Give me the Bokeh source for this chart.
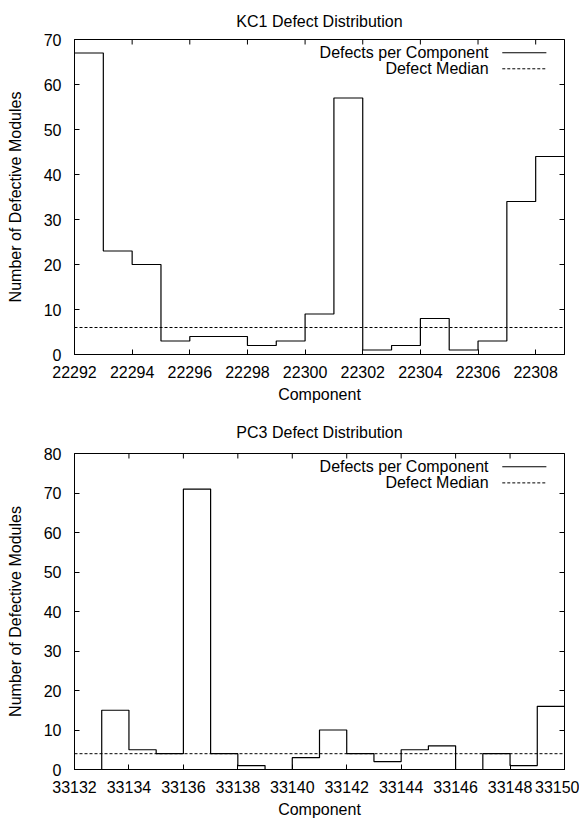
from bokeh.plotting import figure
from bokeh.layouts import column
from bokeh.models import LinearAxis, SingleIntervalTicker, Span, Range1d, CustomJSTickFormatter
from bokeh.core.properties import value
from bokeh.embed import file_html
from bokeh.resources import INLINE

# ---- data ----
kc1_title = "KC1 Defect Distribution"
kc1_components = [22292, 22293, 22294, 22295, 22296, 22297, 22298, 22299, 22300,
                  22301, 22302, 22303, 22304, 22305, 22306, 22307, 22308]
kc1_defects = [67, 23, 20, 3, 4, 4, 2, 3, 9, 57, 1, 2, 8, 1, 3, 34, 44]
kc1_median = 6
kc1_ymax = 70

pc3_title = "PC3 Defect Distribution"
pc3_components = [33132, 33133, 33134, 33135, 33136, 33137, 33138, 33139, 33140,
                  33141, 33142, 33143, 33144, 33145, 33146, 33147, 33148, 33149]
pc3_defects = [0, 15, 5, 4, 71, 4, 1, 0, 3, 10, 4, 2, 5, 6, 0, 4, 1, 16]
pc3_median = 4
pc3_ymax = 80

legend_labels = ["Defects per Component", "Defect Median"]
x_label = "Component"
y_label = "Number of Defective Modules"

FONT = "Liberation Sans"
FS = "16px"
TICK_PX = 5


def make_panel(title, comps, defects, median, ymax, top_border, frame_h,
               bottom_border, title_standoff):
    x0 = comps[0]
    x1 = comps[-1] + 1
    p = figure(frame_width=490, frame_height=frame_h,
               x_range=Range1d(x0, x1), y_range=Range1d(0, ymax),
               output_backend="svg", toolbar_location=None,
               min_border_left=74, min_border_right=15,
               min_border_top=top_border, min_border_bottom=bottom_border,
               title=title)
    p.background_fill_color = "white"
    p.border_fill_color = "white"
    p.outline_line_color = "black"
    p.outline_line_width = 1
    p.xgrid.visible = False
    p.ygrid.visible = False

    p.title.align = "center"
    p.title.text_font = FONT
    p.title.text_font_size = FS
    p.title.text_font_style = "normal"
    p.title.text_color = "black"
    p.title.standoff = title_standoff

    xt = SingleIntervalTicker(interval=2, num_minor_ticks=0)
    yt = SingleIntervalTicker(interval=10, num_minor_ticks=0)

    xa = p.xaxis[0]
    xa.ticker = xt
    ya = p.yaxis[0]
    ya.ticker = yt
    for ax in (xa, ya):
        ax.major_tick_in = TICK_PX
        ax.major_tick_out = 0
        ax.minor_tick_line_color = None
        ax.axis_line_color = "black"
        ax.major_tick_line_color = "black"
        ax.major_label_text_font = FONT
        ax.major_label_text_font_size = FS
        ax.major_label_text_color = "black"
        ax.axis_label_text_font = FONT
        ax.axis_label_text_font_size = FS
        ax.axis_label_text_font_style = "normal"
        ax.axis_label_text_color = "black"
    xa.axis_label = x_label
    ya.axis_label = y_label
    xa.major_label_standoff = 11
    xa.axis_label_standoff = 5
    ya.major_label_standoff = 13
    ya.axis_label_standoff = 17

    # mirrored ticks on the right (no labels)
    blank = CustomJSTickFormatter(code="return '';")
    right = LinearAxis(ticker=SingleIntervalTicker(interval=10, num_minor_ticks=0),
                       formatter=blank, major_label_standoff=0,
                       major_tick_in=TICK_PX, major_tick_out=0,
                       minor_tick_line_color=None, axis_line_color=None,
                       major_tick_line_color="black")
    p.add_layout(right, "right")

    # mirrored ticks on top, at the same x tick positions
    tick_x = list(range(x0, x1 + 1, 2))
    dy = ymax * TICK_PX / frame_h
    p.segment(x0=tick_x, y0=[ymax] * len(tick_x), x1=tick_x,
              y1=[ymax - dy] * len(tick_x), line_color="black", line_width=1)

    # histogram steps
    xs = list(comps) + [x1]
    ys = list(defects) + [defects[-1]]
    p.step(xs, ys, mode="after", line_color="black", line_width=1.2)

    # median
    p.add_layout(Span(location=median, dimension="width", line_color="black",
                      line_width=1, line_dash="3 2"))

    # legend (gnuplot style: text then sample)
    fx = lambda f: x0 + f * (x1 - x0)
    fy = lambda f: ymax - f * ymax
    rows = [0.042, 0.093]
    p.text(x=[fx(0.845)] * 2, y=[fy(r) for r in rows], text=legend_labels,
           text_align="right", text_baseline="middle",
           text_font=value(FONT), text_font_size=FS, text_color="black")
    p.segment(x0=[fx(0.873)], y0=[fy(rows[0])], x1=[fx(0.963)], y1=[fy(rows[0])],
              line_color="black", line_width=1.2)
    p.segment(x0=[fx(0.873)], y0=[fy(rows[1])], x1=[fx(0.963)], y1=[fy(rows[1])],
              line_color="black", line_width=1, line_dash="3 2")
    return p


p1 = make_panel(kc1_title, kc1_components, kc1_defects, kc1_median, kc1_ymax,
                39, 315, 50, 20)
p2 = make_panel(pc3_title, pc3_components, pc3_defects, pc3_median, pc3_ymax,
                48, 316, 52, 26)

layout = column(p1, p2)
open("out.html", "w").write(file_html(layout, INLINE))
